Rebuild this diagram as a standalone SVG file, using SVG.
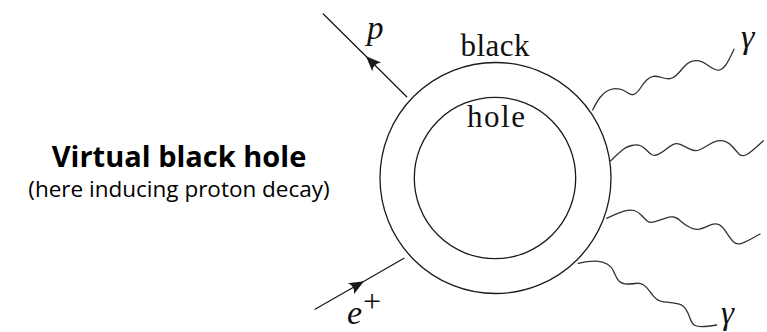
<svg xmlns="http://www.w3.org/2000/svg" width="767" height="332" viewBox="0 0 767 332">
<style>
.ln{fill:none;stroke:#1a1a1a;stroke-width:1.3;stroke-linecap:round;stroke-linejoin:round}
.wv{fill:none;stroke:#333;stroke-width:1.3;stroke-linecap:round}
.serif{font-family:"Liberation Serif","Times New Roman",serif;fill:#111}
.it{font-style:italic}
.sans{font-family:"Open Sans","Noto Sans","DejaVu Sans",sans-serif;fill:#000}
</style>
<defs>
<marker id="arr" markerUnits="userSpaceOnUse" markerWidth="20" markerHeight="20" viewBox="-14 -7 16 14" refX="0" refY="0" orient="auto">
<path d="M0,0 L-12,-5 Q-8,0 -12,5 Z" fill="#1a1a1a"/>
</marker>
</defs>
<rect width="767" height="332" fill="#fff"/>

<g id="title">
<text class="sans" x="179" y="166.5" font-size="29" font-weight="bold" text-anchor="middle">Virtual black hole</text>
<text class="sans" x="179" y="196.5" font-size="22.5" text-anchor="middle">(here inducing proton decay)</text>
</g>

<g id="blackhole">
<circle class="ln" cx="495.5" cy="178" r="115.5"/>
<circle class="ln" cx="495" cy="178" r="80.7"/>
<text class="serif" x="495" y="55.7" font-size="31" text-anchor="middle" textLength="69" lengthAdjust="spacing">black</text>
<text class="serif" x="496" y="126.7" font-size="31" text-anchor="middle" textLength="58" lengthAdjust="spacing">hole</text>
</g>

<g id="connectors">
<polyline id="proton" class="ln" points="406.7,96.7 366,56.3 323.3,14" marker-mid="url(#arr)"/>
<polyline id="positron" class="ln" points="315,309.3 364,281.2 404,258.3" marker-mid="url(#arr)"/>
<path id="photon1" class="wv" d="M592.7,110 Q596.7,101.7 600,97.5 Q603.3,93.3 606.7,91.3 Q610,89.3 613.3,88.8 Q616.7,88.3 620,89.2 Q623.3,90 626.7,92.2 Q630,94.3 631.7,94.7 Q633.3,95 635.8,93.3 Q638.3,91.7 640.8,87.5 Q643.3,83.3 646.7,80 Q650,76.7 653.3,76.3 Q656.7,76 661.7,77.5 Q666.7,79 670,78.7 Q673.3,78.3 676.7,75 Q680,71.7 683.3,67.5 Q686.7,63.3 690.8,61.7 Q695,60 699.2,60.8 Q703.3,61.7 707.5,65 Q711.7,68.3 715,69.5 Q718.3,70.7 720.8,69.5 Q723.3,68.3 725.8,65 Q728.3,61.7 734,49.3"/>
<path id="photon2" class="wv" d="M610.7,160.7 Q620,151.7 623.3,149.2 Q626.7,146.7 631.7,145.5 Q636.7,144.3 640,145.5 Q643.3,146.7 646.7,150.3 Q650,154 652.5,155 Q655,156 659.2,153.8 Q663.3,151.7 666.7,148.8 Q670,146 673.3,144.3 Q676.7,142.7 680.8,144.7 Q685,146.7 690,149.2 Q695,151.7 699.2,150 Q703.3,148.3 708.3,145 Q713.3,141.7 717.5,140.8 Q721.7,140 725.8,141.7 Q730,143.3 733.3,147.5 Q736.7,151.7 739.2,154.2 Q741.7,156.7 745.8,155 Q750,153.3 763.3,140.7"/>
<path id="photon3" class="wv" d="M606.7,218.3 Q616.7,213.3 623.3,211.3 Q630,209.3 634.2,210.5 Q638.3,211.7 641.7,215.5 Q645,219.3 647.5,221.3 Q650,223.3 655,221.7 Q660,220 665,218.3 Q670,216.7 673.3,217 Q676.7,217.3 680.8,221.2 Q685,225 690,227.5 Q695,230 699.2,229.2 Q703.3,228.3 708.3,225.8 Q713.3,223.3 717.5,224.2 Q721.7,225 725.8,231.7 Q730,238.3 733.3,241.7 Q736.7,245 741.7,243.3 Q746.7,241.7 760,234"/>
<path id="photon4" class="wv" d="M578.3,263.3 Q590,260.7 596.7,261.2 Q603.3,261.7 607.5,264.2 Q611.7,266.7 613.3,270.8 Q615,275 617.5,279.2 Q620,283.3 625,283.8 Q630,284.3 635,283.5 Q640,282.7 643.3,284.7 Q646.7,286.7 650,291.7 Q653.3,296.7 656.7,299.2 Q660,301.7 666.7,302.2 Q673.3,302.7 678.3,303.8 Q683.3,305 685.8,309.2 Q688.3,313.3 690,318.3 Q691.7,323.3 694.2,325 Q696.7,326.7 701.7,326.7 Q706.7,326.7 716.7,325"/>
</g>

<g id="label-p">
<text class="serif it" x="367" y="39" font-size="33">p</text>
</g>
<g id="label-eplus">
<text class="serif" x="347" y="324"><tspan class="it" font-size="34">e</tspan><tspan font-size="32" dx="1" dy="-12">+</tspan></text>
</g>
<g id="label-gamma1">
<text class="serif it" x="741" y="48" font-size="34">γ</text>
</g>
<g id="label-gamma2">
<text class="serif it" x="721" y="324" font-size="33">γ</text>
</g>
</svg>
